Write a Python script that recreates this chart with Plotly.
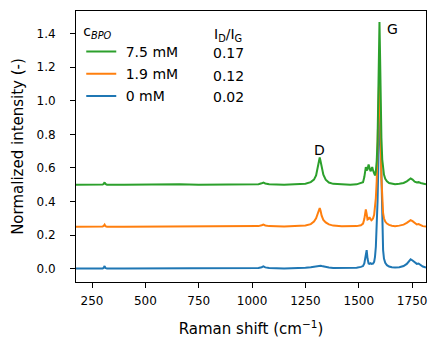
import plotly.graph_objects as go

# Raman shift sample positions (cm^-1), shared by all spectra
shift = [175, 250, 300, 305, 309, 313, 320,
         400, 500, 580, 620, 660,
         750, 850, 900, 950, 1000,
         1030, 1045, 1053, 1062, 1080,
         1150, 1200, 1250, 1275, 1290,
         1300, 1308, 1313, 1317, 1321,
         1326, 1334, 1345, 1360, 1380,
         1420, 1460, 1490, 1510, 1520,
         1526, 1530, 1533, 1537, 1541,
         1546, 1550, 1555, 1559, 1563,
         1567, 1572, 1576, 1580, 1584,
         1588, 1591, 1594, 1597, 1600,
         1603, 1606, 1610, 1614, 1618,
         1624, 1632, 1642, 1655, 1670,
         1690, 1710, 1725, 1735, 1743,
         1752, 1762, 1772, 1780, 1790,
         1800, 1815]

# 0 mM (offset 0)
int_0mM = [0.000, 0.000, 0.001, 0.005, 0.015, 0.003, 0.000,
           0.000, 0.000, 0.001, 0.001, 0.001,
           0.000, 0.001, 0.002, 0.002, 0.002,
           0.003, 0.008, 0.013, 0.007, 0.003,
           0.001, 0.002, 0.005, 0.008, 0.011,
           0.014, 0.017, 0.018, 0.018, 0.017,
           0.015, 0.012, 0.009, 0.006, 0.004,
           0.003, 0.003, 0.005, 0.010, 0.015,
           0.030, 0.070, 0.105, 0.110, 0.060,
           0.030, 0.028, 0.032, 0.028, 0.027,
           0.030, 0.040, 0.070, 0.130, 0.250,
           0.400, 0.580, 0.780, 0.930, 0.920,
           0.700, 0.450, 0.220, 0.110, 0.060,
           0.035, 0.020, 0.012, 0.008, 0.006,
           0.008, 0.015, 0.028, 0.045, 0.055,
           0.048, 0.035, 0.028, 0.030, 0.022,
           0.012, 0.006]

# 1.9 mM (offset 0.25)
int_19mM = [0.250, 0.250, 0.251, 0.255, 0.262, 0.253, 0.250,
            0.250, 0.250, 0.251, 0.252, 0.251,
            0.250, 0.251, 0.253, 0.252, 0.252,
            0.253, 0.258, 0.262, 0.257, 0.253,
            0.251, 0.252, 0.257, 0.265, 0.280,
            0.300, 0.330, 0.352, 0.361, 0.345,
            0.315, 0.290, 0.275, 0.263, 0.256,
            0.252, 0.251, 0.253, 0.258, 0.268,
            0.295, 0.335, 0.352, 0.325, 0.292,
            0.295, 0.306, 0.295, 0.288, 0.292,
            0.300, 0.320, 0.360, 0.420, 0.520,
            0.680, 0.850, 1.050, 1.200, 1.050,
            0.750, 0.540, 0.400, 0.330, 0.300,
            0.280, 0.268, 0.260, 0.255, 0.253,
            0.256, 0.262, 0.272, 0.283, 0.288,
            0.283, 0.270, 0.263, 0.265, 0.258,
            0.253, 0.250]

# 7.5 mM (offset 0.5)
int_75mM = [0.500, 0.500, 0.501, 0.505, 0.514, 0.504, 0.500,
            0.499, 0.500, 0.502, 0.505, 0.502,
            0.500, 0.501, 0.505, 0.504, 0.502,
            0.503, 0.508, 0.512, 0.507, 0.502,
            0.500, 0.501, 0.506, 0.515, 0.530,
            0.555, 0.600, 0.640, 0.662, 0.640,
            0.600, 0.560, 0.530, 0.513, 0.505,
            0.501, 0.500, 0.502, 0.508, 0.515,
            0.545, 0.590, 0.605, 0.585, 0.590,
            0.620, 0.600, 0.580, 0.590, 0.605,
            0.585, 0.560, 0.555, 0.580, 0.640,
            0.760, 0.950, 1.200, 1.470, 1.250,
            0.960, 0.780, 0.650, 0.590, 0.560,
            0.535, 0.520, 0.510, 0.505, 0.502,
            0.505, 0.510, 0.520, 0.532, 0.537,
            0.530, 0.518, 0.513, 0.515, 0.510,
            0.505, 0.502]

series_names = ["0 mM", "1.9 mM", "7.5 mM"]
series_colors = ["#1f77b4", "#ff7f0e", "#2ca02c"]
series_values = [int_0mM, int_19mM, int_75mM]
series_rank = [3, 2, 1]
ratio_labels = ["0.02", "0.12", "0.17"]

peak_labels = ["D", "G"]
peak_label_x = [1317, 1657]
peak_label_y = [0.705, 1.425]

x_ticks = [250, 500, 750, 1000, 1250, 1500, 1750]
y_ticks = [0.0, 0.2, 0.4, 0.6, 0.8, 1.0, 1.2, 1.4]

FONT = "DejaVu Sans"

fig = go.Figure()
for name, col, vals, rk in zip(series_names, series_colors, series_values, series_rank):
    fig.add_trace(go.Scatter(x=shift, y=vals, mode="lines", name=" " + name,
                             legendgroup=name, legendrank=rk,
                             line=dict(color=col, width=2)))

for t, xx, yy in zip(peak_labels, peak_label_x, peak_label_y):
    fig.add_annotation(x=xx, y=yy, text=t, showarrow=False,
                       xanchor="center", yanchor="middle",
                       font=dict(family=FONT, size=14, color="black"))

# I_D/I_G column
fig.add_annotation(xref="paper", yref="paper", x=0.4345, y=0.911,
                   text="I<sub>D</sub>/I<sub>G</sub>", showarrow=False,
                   xanchor="center", yanchor="middle",
                   font=dict(family=FONT, size=14, color="black"))
row_y = [0.6816, 0.7613, 0.8439]
for lab, yy in zip(ratio_labels, row_y):
    fig.add_annotation(xref="paper", yref="paper", x=0.4345, y=yy,
                       text=lab, showarrow=False,
                       xanchor="center", yanchor="middle",
                       font=dict(family=FONT, size=14, color="black"))

axis_common = dict(showline=True, linecolor="black", linewidth=1, mirror=True,
                   ticks="outside", ticklen=5, tickwidth=1, tickcolor="black",
                   showgrid=False, zeroline=False, automargin=False,
                   tickfont=dict(family=FONT, size=12, color="black"))

fig.update_layout(
    width=433, height=338,
    margin=dict(l=76, r=7, t=11, b=56, autoexpand=False),
    paper_bgcolor="white", plot_bgcolor="white",
    xaxis=dict(range=[175, 1815], tickvals=x_ticks, ticklabelstandoff=3,
               title=dict(text="Raman shift (cm<sup>\u22121</sup>)", standoff=17,
                          font=dict(family=FONT, size=15, color="black")),
               **axis_common),
    yaxis=dict(range=[-0.08, 1.535], tickvals=y_ticks, tickformat=".1f",
               ticklabelstandoff=12,
               title=dict(text="Normalized intensity (-)", standoff=9,
                          font=dict(family=FONT, size=15, color="black")),
               **axis_common),
    legend=dict(x=0.015, y=0.975, xanchor="left", yanchor="top",
                traceorder="grouped", tracegroupgap=1,
                bgcolor="rgba(0,0,0,0)", borderwidth=0,
                title=dict(text="c<sub><i>BPO</i></sub>",
                           font=dict(family=FONT, size=14, color="black")),
                font=dict(family=FONT, size=14, color="black")),
    showlegend=True,
)

fig.write_html("out.html", config={"displayModeBar": False},
               post_script="document.body.style.margin='0';document.body.style.padding='0';")
